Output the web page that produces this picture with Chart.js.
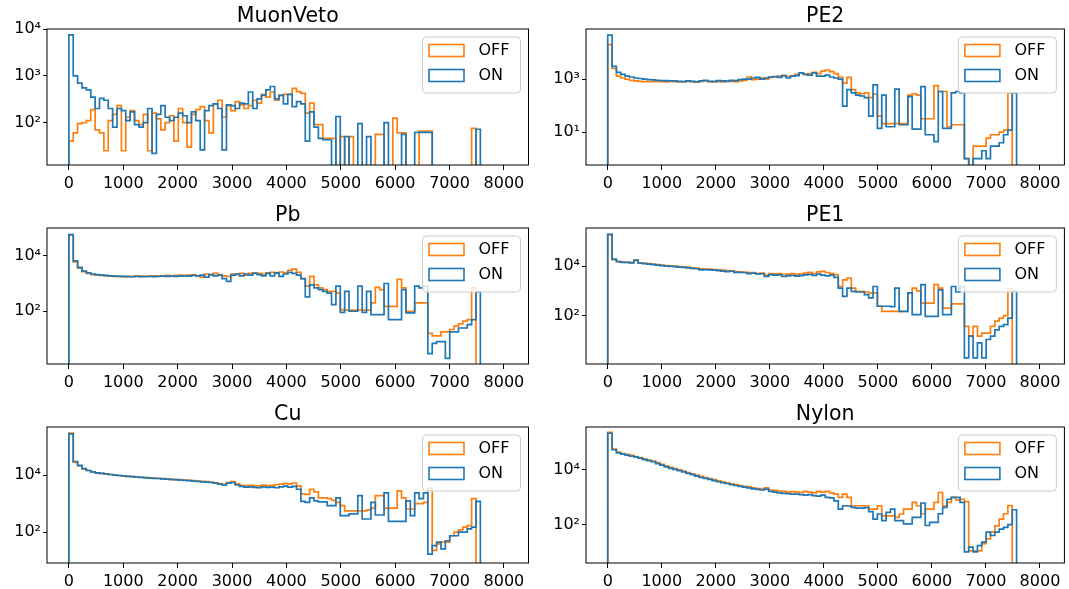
<!DOCTYPE html>
<html>
<head>
<meta charset="utf-8">
<script src="https://cdn.jsdelivr.net/npm/chart.js@4.4.1/dist/chart.umd.min.js"></script>
<style>
  body { margin: 0; background: #fff; width: 1069px; height: 589px; overflow: hidden; position: relative; }
  .panel { position: absolute; }
</style>
</head>
<body>
<script>
// histogram bins: 80.5 wide starting at 0
const binWidth = 80.5;
const xTicks = [0, 1000, 2000, 3000, 4000, 5000, 6000, 7000, 8000];
const seriesLabels = ['OFF', 'ON'];
const panelTitles = ['MuonVeto', 'PE2', 'Pb', 'PE1', 'Cu', 'Nylon'];

// counts per bin
const muonOff = [40,60,95,100,110,190,70,60,25,110,
  150,230,25,130,180,110,90,150,25,160,
  120,70,100,140,40,200,100,30,150,190,
  220,110,60,250,300,130,230,180,280,240,
  200,230,300,260,400,350,450,300,380,400,
  400,540,460,420,160,260,90,90,46,46,
  46,0,50,0,50,0,0,0,0,0,
  56,56,0,0,125,60,60,0,0,0,
  66,66,66,0,0,0,0,0,0,0,
  0,0,75];
const muonOn = [7500,1000,700,550,500,350,200,330,300,200,
  80,200,180,110,170,90,80,100,200,22,
  150,230,130,110,130,160,140,100,170,110,
  26,180,230,250,200,26,240,230,200,260,
  250,450,200,320,380,500,590,320,380,250,
  400,220,280,250,40,170,80,46,43,43,
  0,135,0,50,0,0,95,0,50,0,
  0,0,100,0,0,0,56,0,0,62,
  62,62,62,0,0,0,0,0,0,0,
  0,0,0,72];

const pe2Off = [20000,2500,1300,1100,1000,900,850,820,800,800,
  800,820,800,780,820,800,780,800,820,800,
  760,820,850,800,820,800,780,850,820,800,
  850,900,1200,950,1000,1100,1000,1150,1200,1300,
  1350,1250,1300,1500,1700,1500,1600,1800,1600,2000,
  2200,1900,1600,1200,700,1150,400,300,280,300,
  200,270,40,21,21,21,21,21,21,250,
  280,250,32,32,32,570,340,340,16,19,
  19,19,1,0,3,3,3,6,8,8,
  10,12,300];
const pe2On = [45000,3000,1800,1500,1300,1200,1100,1050,1000,950,
  930,900,880,870,860,850,820,800,860,820,
  780,850,900,820,800,880,850,820,900,870,
  950,1000,1000,1100,1150,1000,1100,1200,1250,1150,
  1350,1100,1300,1350,1700,1500,1400,1700,1300,1300,
  1400,1200,1100,1000,95,400,300,250,230,200,
  40,600,14,250,16,16,420,19,19,220,
  13,13,520,8,8,4.4,340,14,14,300,
  340,300,1,0,1,1,2,1,3,3,
  4,8,12,300];

const pbOff = [56000,6000,3600,2700,2300,2100,2000,1950,1900,1850,
  1800,1800,1780,1800,1800,1850,1800,1850,1850,1900,
  1850,1900,1950,1900,1950,2000,1950,2000,2050,1900,
  1700,2200,2000,2300,2100,1900,1800,2200,2100,2300,
  2000,2300,2400,2300,2200,2400,2500,2300,2600,2400,
  3000,3300,2500,1500,800,1800,900,700,600,520,
  520,450,115,110,110,110,110,110,110,200,
  720,600,150,150,150,1400,700,100,100,200,
  200,200,16,13,13,18,18,22,29,35,
  44,50,700];
const pbOn = [58000,6500,3800,2800,2400,2200,2100,2000,1950,1900,
  1850,1800,1800,1780,1750,1800,1780,1750,1800,1780,
  1800,1850,1800,1850,1800,1850,1900,1850,1950,1900,
  2000,1700,2100,1900,2000,1500,1200,2000,2200,1900,
  2200,2000,2300,2100,1900,2300,1900,2400,1800,2200,
  2500,2300,2000,1500,330,900,700,600,520,450,
  175,800,92,520,100,100,800,92,520,76,
  76,76,1000,50,50,50,600,87,87,800,
  700,800,3,7,8,8,2,18,18,25,
  25,33,50,500];

const pe1Off = [185000,18000,15000,14500,14000,14000,18000,13500,13000,12500,
  12000,11500,11000,10500,10200,10000,9500,9200,9000,8500,
  8200,7800,7600,7500,7200,7000,6800,6500,6400,6000,
  5800,5600,5400,5500,5000,5200,4300,5000,4800,5000,
  4500,4700,5000,4600,4800,5200,5600,5000,5800,6100,
  5500,5000,4500,1500,2800,3300,1300,950,950,900,
  830,830,240,150,150,150,150,150,150,830,
  1300,1000,320,320,320,1800,1300,200,200,300,
  300,300,37,15,37,15,20,20,37,60,
  80,100,1200];
const pe1On = [190000,19000,15000,14000,14000,13500,17000,13000,12500,12000,
  11500,11000,10500,10000,9800,9500,9000,8800,8500,8000,
  7800,7000,7200,7000,6800,6500,6300,6000,6200,5600,
  5500,5500,5000,5200,4800,4900,3800,4500,4300,4400,
  3800,4000,4200,3900,4100,4400,4600,4200,4700,4300,
  4000,4300,3500,1300,600,1300,950,900,900,700,
  520,1500,240,240,240,230,1300,150,150,830,
  110,110,1800,94,94,94,1100,110,110,1500,
  900,1500,2,15,2,8,2,11,15,27,
  37,44,80,1000];

const cuOff = [300000,28000,21000,16500,14500,13000,12000,11500,11000,10500,
  10000,9700,9400,9100,8900,8600,8400,8200,8000,7800,
  7700,7500,7300,7200,7000,6900,6700,6600,6400,6200,
  6000,5900,5700,5400,5000,4700,5500,5900,4900,4400,
  4300,4400,4200,4200,4500,4300,4400,4600,4800,5100,
  4900,5300,4200,2200,2100,3200,2600,1600,1600,1500,
  1300,1100,850,560,560,560,560,560,600,700,
  1900,1900,700,700,700,2800,1600,650,650,1000,
  1000,1100,3500,23,39,45,45,75,100,120,
  150,170,1500];
const cuOn = [280000,30000,22000,17000,14500,13000,12000,11500,11000,10500,
  10000,9700,9400,9100,8800,8500,8300,8100,7900,7700,
  7600,7400,7200,7000,6900,6700,6500,6400,6200,6000,
  5800,5700,5500,5200,4800,4500,5200,5500,4500,4000,
  3800,3900,3700,3600,3900,3700,3800,3600,3900,4100,
  3800,4000,3200,1200,1100,1600,1250,1150,1150,850,
  850,1600,380,380,440,440,1900,290,290,1100,
  400,400,2400,240,240,240,240,1250,380,2400,
  1500,2400,17,34,45,26,50,75,75,100,
  100,130,150,1200];

const nylonOff = [240000,58000,45000,40000,37000,34000,31000,28500,25500,23000,
  21000,18500,16000,14000,12500,11200,10000,9000,8000,7200,
  6500,5900,5300,4800,4400,4000,3700,3400,3100,2900,
  2700,2500,2400,2200,2100,2000,2200,1850,1750,1700,
  1650,1550,1600,1550,1500,1650,1550,1450,1650,1550,
  1650,1450,1300,1000,1300,1000,490,490,490,490,
  370,370,490,210,210,210,185,245,370,370,
  650,490,250,370,370,650,1500,490,650,1000,
  800,850,700,11,11,11,20,30,53,90,
  160,250,500];
const nylonOn = [220000,55000,42000,38000,35000,32000,30000,27000,24000,22000,
  20000,17000,15000,13000,11500,10500,9500,8500,7500,6700,
  6000,5400,4900,4500,4100,3700,3400,3200,2900,2700,
  2500,2350,2200,2050,1950,1850,2000,1650,1550,1450,
  1400,1350,1300,1300,1250,1200,1250,1150,1100,1200,
  1000,950,740,370,490,480,430,400,400,420,
  300,160,245,140,280,370,140,140,107,107,
  185,185,620,93,120,120,250,430,850,1000,
  1000,650,10,15,10,17,23,53,40,53,
  69,80,100,350];

const offSeries = [muonOff, pe2Off, pbOff, pe1Off, cuOff, nylonOff];
const onSeries = [muonOn, pe2On, pbOn, pe1On, cuOn, nylonOn];
const yLimits = [[12.4, 10000], [0.58, 77000], [1.26, 100000], [1.13, 342000], [8.3, 486000], [3.95, 373000]];
const yTicks = [[100, 1000, 10000], [10, 1000], [100, 10000], [100, 10000], [100, 10000], [100, 10000]];

Chart.defaults.font.family = "'DejaVu Sans', sans-serif";
Chart.defaults.color = '#000';

const colors = { OFF: '#ff7f0e', ON: '#1f77b4' };
const sup = { '0': '⁰', '1': '¹', '2': '²', '3': '³', '4': '⁴', '5': '⁵', '6': '⁶' };

// step outline like matplotlib histtype='step'; empty bins drop below the axis
function outline(counts, floor) {
  const pts = [{ x: 0, y: floor }];
  counts.forEach((c, i) => {
    const y = c > 0 ? c : floor;
    pts.push({ x: i * binWidth, y: y }, { x: (i + 1) * binWidth, y: y });
  });
  pts.push({ x: counts.length * binWidth, y: floor });
  return pts;
}

function roundRect(ctx, x, y, w, h, r) {
  ctx.beginPath();
  ctx.moveTo(x + r, y);
  ctx.arcTo(x + w, y, x + w, y + h, r);
  ctx.arcTo(x + w, y + h, x, y + h, r);
  ctx.arcTo(x, y + h, x, y, r);
  ctx.arcTo(x, y, x + w, y, r);
  ctx.closePath();
}

// spines + legend box in the upper right corner
const framePlugin = {
  id: 'frame',
  afterDatasetsDraw(chart) {
    const ctx = chart.ctx, a = chart.chartArea;
    ctx.save();
    ctx.strokeStyle = '#000';
    ctx.lineWidth = 1;
    ctx.strokeRect(a.left, a.top, a.right - a.left, a.bottom - a.top);

    const w = 98, h = 56;
    const bx = a.right - 8 - w, by = a.top + 8;
    roundRect(ctx, bx, by, w, h, 4);
    ctx.fillStyle = 'rgba(255,255,255,0.8)';
    ctx.fill();
    ctx.strokeStyle = '#cccccc';
    ctx.stroke();

    ctx.font = "16px 'DejaVu Sans', sans-serif";
    ctx.textBaseline = 'middle';
    ctx.textAlign = 'left';
    chart.data.datasets.forEach((ds, k) => {
      const py = by + 7.5 + k * 25;
      ctx.strokeStyle = ds.borderColor;
      ctx.lineWidth = 1.6;
      ctx.strokeRect(bx + 6.5, py, 35, 12);
      ctx.fillStyle = '#000';
      ctx.fillText(ds.label, bx + 56, py + 6.5);
    });
    ctx.restore();
  }
};

const cols = [
  { left: 0, width: 540, axisW: 47, padR: 11.5 },
  { left: 540, width: 529, axisW: 46, padR: 4.6 }
];
const rowTops = [0, 199, 398];
const panelH = 195;

panelTitles.forEach((title, p) => {
  const col = cols[p % 2];
  const top = rowTops[Math.floor(p / 2)];
  const div = document.createElement('div');
  div.className = 'panel';
  div.style.left = col.left + 'px';
  div.style.top = top + 'px';
  const canvas = document.createElement('canvas');
  canvas.width = col.width;
  canvas.height = panelH;
  canvas.style.width = col.width + 'px';
  canvas.style.height = panelH + 'px';
  div.appendChild(canvas);
  document.body.appendChild(div);

  const yMin = yLimits[p][0], yMax = yLimits[p][1];
  const floor = yMin / 100;
  const tickList = yTicks[p];

  new Chart(canvas, {
    type: 'line',
    data: {
      datasets: [
        { label: seriesLabels[0], data: outline(offSeries[p], floor), borderColor: colors.OFF, borderWidth: 1.7, order: 1 },
        { label: seriesLabels[1], data: outline(onSeries[p], floor), borderColor: colors.ON, borderWidth: 1.7, order: 0 }
      ]
    },
    options: {
      responsive: false,
      animation: false,
      devicePixelRatio: 1,
      layout: { padding: { left: 0, right: col.padR, top: 0, bottom: 0 } },
      elements: { point: { radius: 0 }, line: { tension: 0, fill: false } },
      plugins: {
        legend: { display: false },
        tooltip: { enabled: false },
        title: {
          display: true, text: title, fullSize: false, color: '#000',
          font: { size: 20.5, weight: 'normal', lineHeight: 1.2 },
          padding: { top: 4.2, bottom: 0.2 }
        }
      },
      scales: {
        x: {
          type: 'linear', min: -402, max: 8452,
          afterBuildTicks: s => { s.ticks = xTicks.map(v => ({ value: v })); },
          afterFit: s => { s.height = 30; },
          grid: { drawOnChartArea: false, drawTicks: true, tickLength: 5, color: '#000' },
          border: { display: false },
          ticks: { color: '#000', font: { size: 16 }, padding: 4, maxRotation: 0, autoSkip: false, callback: v => String(v) }
        },
        y: {
          type: 'logarithmic', min: yMin, max: yMax,
          afterBuildTicks: s => { s.ticks = tickList.map(v => ({ value: v })); },
          afterFit: s => { s.width = col.axisW; },
          grid: { drawOnChartArea: false, drawTicks: true, tickLength: 4, color: '#000' },
          border: { display: false },
          ticks: {
            color: '#000', font: { size: 16 }, padding: 2,
            callback: v => '10' + String(Math.round(Math.log10(v))).split('').map(c => sup[c]).join('')
          }
        }
      }
    },
    plugins: [framePlugin]
  });
});
</script>
</body>
</html>
